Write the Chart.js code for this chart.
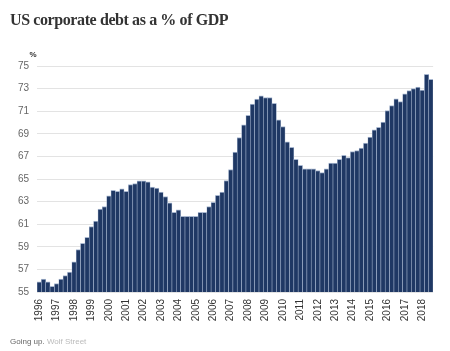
<!DOCTYPE html>
<html>
<head>
<meta charset="utf-8">
<script src="https://cdn.jsdelivr.net/npm/chart.js@4/dist/chart.umd.min.js"></script>
<style>
  html, body { margin: 0; padding: 0; background: #fff; }
  #wrap { position: relative; width: 450px; height: 351px; overflow: hidden; }
  #title {
    position: absolute; left: 10px; top: 11px;
    font-family: "Liberation Serif", serif; font-weight: bold;
    font-size: 16px; letter-spacing: -0.4px; color: #333; white-space: nowrap;
  }
  #note {
    position: absolute; left: 10px; top: 337px;
    font-family: "Liberation Sans", Arial, sans-serif; font-size: 8px; color: #666;
  }
  #note span { color: #bbb; }
  #box { position: absolute; left: 0; top: 0; width: 450px; height: 351px; }
</style>
</head>
<body>
<div id="wrap">
  <div id="box"><canvas id="debtChart"></canvas></div>
  <div id="title">US corporate debt as a % of GDP</div>
  <div id="note">Going up. <span>Wolf Street</span></div>
</div>
<script>
// quarters 1996 Q1 .. 2018 Q3
const years = [];
for (let y = 1996; y <= 2018; y++) years.push(String(y));
const quarters = [];
years.forEach(y => ['Q1', 'Q2', 'Q3', 'Q4'].forEach(q => quarters.push(y + ' ' + q)));
quarters.length = 91;

// corporate debt, % of GDP
const debtPct = [
  55.9, 56.15, 55.9, 55.5,
  55.74, 56.15, 56.45, 56.77,
  57.66, 58.75, 59.3, 59.83,
  60.8, 61.28, 62.34, 62.57,
  63.5, 64.0, 63.9, 64.13,
  63.9, 64.5, 64.6, 64.84,
  64.84, 64.75, 64.28, 64.2,
  63.84, 63.45, 62.9, 62.04,
  62.28, 61.7, 61.7, 61.7,
  61.7, 62.04, 62.04, 62.57,
  62.93, 63.55, 63.84, 64.87,
  65.84, 67.38, 68.67, 69.79,
  70.64, 71.64, 72.08, 72.35,
  72.2, 72.2, 71.7, 70.23,
  69.64, 68.3, 67.8, 66.75,
  66.2, 65.9, 65.9, 65.9,
  65.75, 65.57, 65.9, 66.4,
  66.4, 66.75, 67.1, 66.9,
  67.43, 67.52, 67.73, 68.17,
  68.7, 69.35, 69.58, 70.03,
  71.05, 71.5, 72.1, 71.85,
  72.53, 72.82, 73.0, 73.14,
  72.88, 74.27, 73.82
];

const yMin = 55, yMax = 75, yStep = 2;

// "%" unit above the y axis
const unitLabel = {
  id: 'unitLabel',
  afterDraw(chart) {
    const { ctx, chartArea } = chart;
    ctx.save();
    ctx.font = 'bold 8px "Liberation Sans", Arial, sans-serif';
    ctx.fillStyle = '#333';
    ctx.textAlign = 'center';
    ctx.textBaseline = 'middle';
    ctx.fillText('%', chartArea.left - 4, chartArea.top - 11);
    ctx.restore();
  }
};

new Chart(document.getElementById('debtChart'), {
  type: 'bar',
  data: {
    labels: quarters,
    datasets: [{
      data: debtPct,
      backgroundColor: '#1f3864',
      borderColor: '#a7b6cf',
      borderWidth: { top: 1, left: 0.6, right: 0.6, bottom: 0 },
      borderSkipped: 'bottom',
      barPercentage: 1,
      categoryPercentage: 1
    }]
  },
  options: {
    responsive: true,
    maintainAspectRatio: false,
    animation: false,
    layout: { padding: { top: 66, right: 12, left: 0, bottom: 18 } },
    plugins: {
      legend: { display: false },
      tooltip: { enabled: false }
    },
    scales: {
      x: {
        grid: { display: false, drawTicks: false },
        border: { display: false },
        afterFit(scale) { scale.height = 41; },
        ticks: {
          autoSkip: false,
          maxRotation: 90,
          minRotation: 90,
          padding: 7,
          color: '#333',
          font: { family: '"Liberation Sans", Arial, sans-serif', size: 10 },
          callback(val, i) { return i % 4 === 0 ? this.getLabelForValue(val).slice(0, 4) : ''; }
        }
      },
      y: {
        min: yMin,
        max: yMax,
        grid: { color: '#e3e3e3', lineWidth: 1, drawTicks: false },
        border: { display: false },
        afterFit(scale) { scale.width = 37; },
        ticks: {
          stepSize: yStep,
          padding: 8,
          color: '#666',
          font: { family: '"Liberation Sans", Arial, sans-serif', size: 10 }
        }
      }
    }
  },
  plugins: [unitLabel]
});
</script>
</body>
</html>
